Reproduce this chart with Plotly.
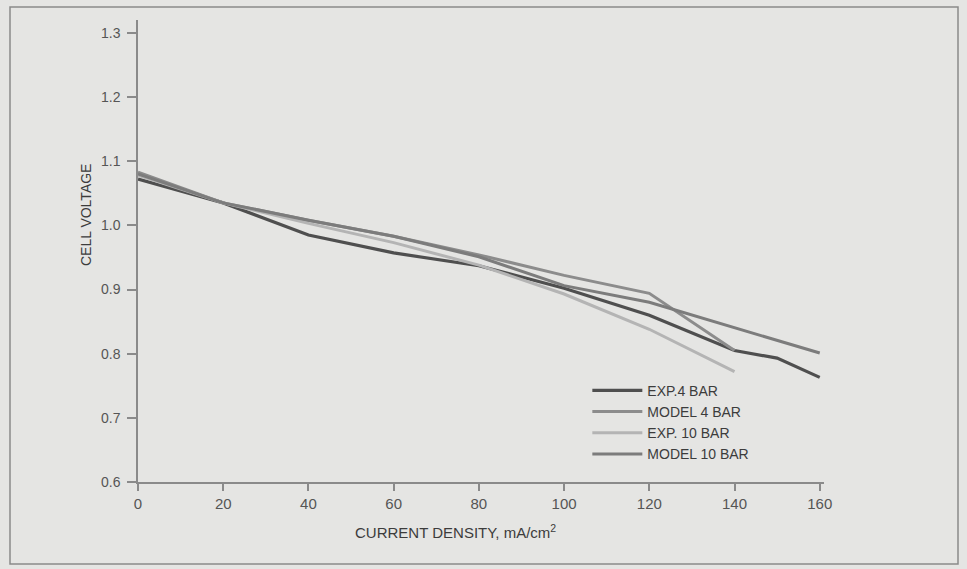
import plotly.graph_objects as go

# Data
exp4_x = [0, 20, 40, 60, 80, 100, 120, 140, 150, 160]
exp4_y = [1.072, 1.035, 0.985, 0.957, 0.937, 0.902, 0.860, 0.805, 0.793, 0.763]

model4_x = [0, 20, 40, 60, 80, 100, 120, 140]
model4_y = [1.083, 1.035, 1.008, 0.983, 0.954, 0.922, 0.894, 0.805]

exp10_x = [0, 20, 40, 60, 80, 100, 120, 140]
exp10_y = [1.078, 1.035, 1.003, 0.973, 0.938, 0.893, 0.838, 0.772]

model10_x = [0, 20, 40, 60, 80, 100, 120, 140, 160]
model10_y = [1.080, 1.035, 1.008, 0.983, 0.951, 0.906, 0.880, 0.841, 0.801]

x_ticks = [0, 20, 40, 60, 80, 100, 120, 140, 160]
y_ticks = [0.6, 0.7, 0.8, 0.9, 1.0, 1.1, 1.2, 1.3]
y_tick_text = ["0.6", "0.7", "0.8", "0.9", "1.0", "1.1", "1.2", "1.3"]

series = [
    ("EXP.4 BAR", exp4_x, exp4_y, "#4f4f4f", 3.2),
    ("MODEL 4 BAR", model4_x, model4_y, "#8c8c8c", 3),
    ("EXP. 10 BAR", exp10_x, exp10_y, "#b4b4b4", 3),
    ("MODEL 10 BAR", model10_x, model10_y, "#7c7c7c", 3),
]

FONT = "Liberation Sans, Arial, sans-serif"
fig = go.Figure()
for name, xs, ys, col, w in series:
    fig.add_trace(go.Scatter(x=xs, y=ys, mode="lines", name=name,
                             line=dict(color=col, width=w)))

fig.update_layout(
    width=967, height=569,
    margin=dict(l=138, r=143, t=20, b=87),
    paper_bgcolor="#e5e5e3",
    plot_bgcolor="#e5e5e3",
    font=dict(family=FONT, size=14, color="#3c3c3c"),
    showlegend=True,
    legend=dict(x=0.655, y=0.232, xanchor="left", yanchor="top",
                bgcolor="rgba(0,0,0,0)", font=dict(size=14, color="#3c3c3c"),
                itemwidth=50, tracegroupgap=0),
    xaxis=dict(range=[0, 161], tickvals=x_ticks, showgrid=False, zeroline=False,
               showline=True, linecolor="#8a8a8a", linewidth=1.5,
               ticks="outside", ticklen=7, tickcolor="#8a8a8a", tickwidth=1.5,
               tickfont=dict(size=15, color="#555555"), automargin=False),
    yaxis=dict(range=[0.6, 1.32], tickvals=y_ticks, ticktext=y_tick_text,
               showgrid=False, zeroline=False,
               showline=True, linecolor="#8a8a8a", linewidth=1.5,
               ticks="outside", ticklen=9, tickcolor="#8a8a8a", tickwidth=1.5,
               ticklabelstandoff=4,
               tickfont=dict(size=14, color="#555555"), automargin=False),
    annotations=[
        dict(text="CURRENT DENSITY, mA/cm<sup>2</sup>", xref="paper", yref="paper",
             x=(455 - 138) / 686, y=(482 - 531) / 462, showarrow=False,
             font=dict(size=15, color="#3c3c3c"), xanchor="center", yanchor="middle"),
        dict(text="CELL VOLTAGE", xref="paper", yref="paper",
             x=(86 - 138) / 686, y=(482 - 215) / 462, showarrow=False, textangle=-90,
             font=dict(size=14, color="#3c3c3c"), xanchor="center", yanchor="middle"),
    ],
    shapes=[
        dict(type="rect", xref="paper", yref="paper",
             x0=(10 - 138) / 686, x1=(958 - 138) / 686,
             y0=(482 - 564) / 462, y1=(482 - 7) / 462,
             line=dict(color="#8a8a8a", width=1.5), fillcolor="rgba(0,0,0,0)"),
    ],
)

fig.write_html("out.html", config={"displayModeBar": False},
               post_script="document.body.style.margin='0';")
